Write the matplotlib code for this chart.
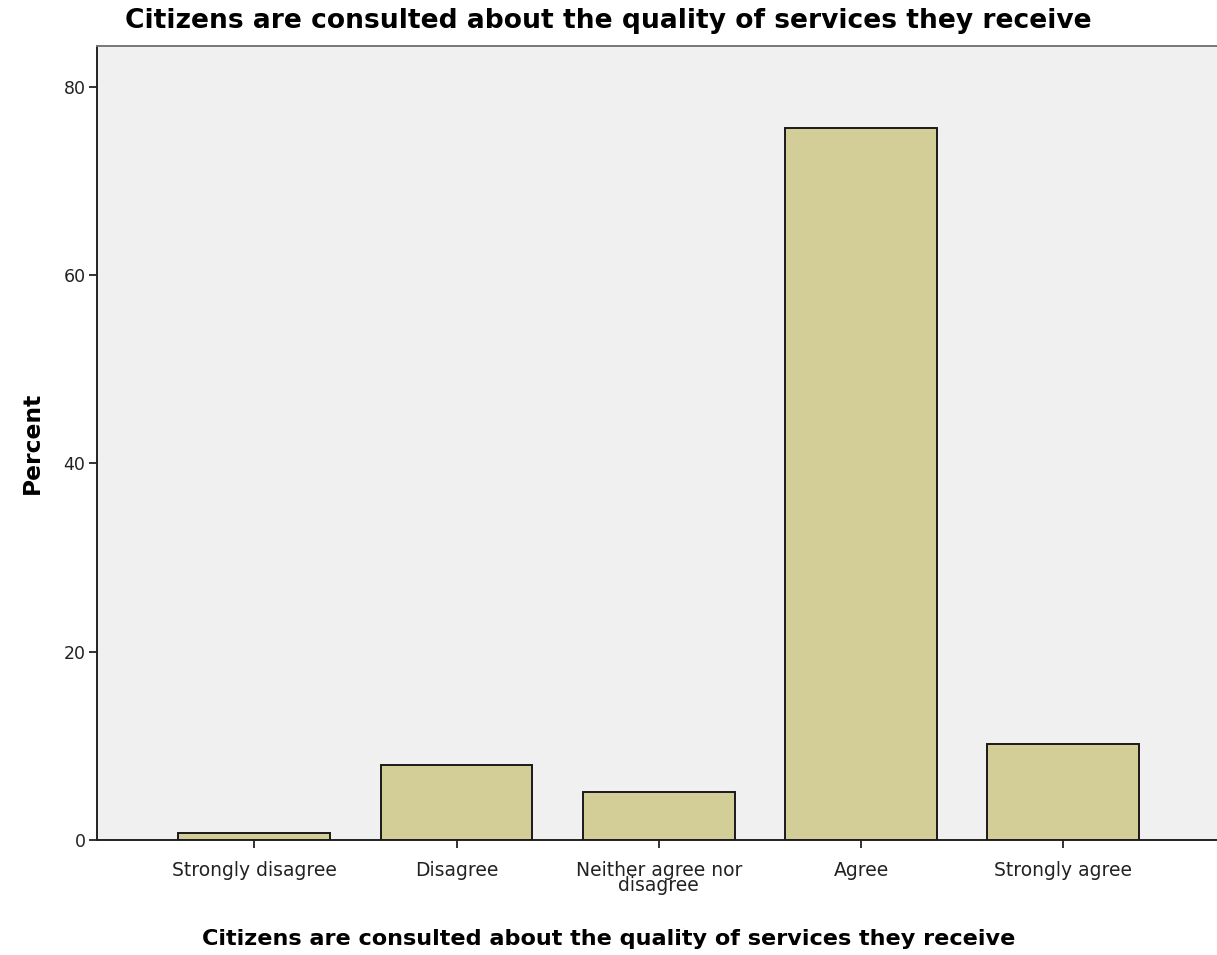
import matplotlib.pyplot as plt
import numpy as np

plt.rcParams['font.family'] = ['DejaVu Sans']

categories = ["Strongly disagree", "Disagree", "Neither agree nor\ndisagree",
              "Agree", "Strongly agree"]
percent = [0.7, 8.0, 5.1, 75.6, 10.2]
y_ticks = [0, 20, 40, 60, 80]
title = "Citizens are consulted about the quality of services they receive"

fig = plt.figure(figsize=(12.17, 9.55), dpi=100)
ax = fig.add_axes([0.0793, 0.1204, 0.9207, 0.8314])
ax.set_facecolor('#F0F0F0')

x = np.arange(len(categories))
ax.bar(x, percent, width=0.75, color='#D3CE97', edgecolor='#1a1a1a', linewidth=1.4, zorder=3)

ax.set_xlim(-0.78, 4.76)
ax.set_ylim(0, 84.3)
ax.set_yticks(y_ticks)
ax.set_yticklabels([str(v) for v in y_ticks], fontsize=12.5, color='#222222')
ax.set_xticks(x)
ax.set_xticklabels(categories, fontsize=13.5, color='#222222', linespacing=0.75)
ax.tick_params(axis='both', direction='out', length=6, width=1.4, color='#333333')
ax.tick_params(axis='x', pad=9)
ax.tick_params(axis='y', pad=2)

for side in ['left', 'bottom']:
    ax.spines[side].set_linewidth(1.4)
    ax.spines[side].set_color('#222222')
ax.spines['top'].set_color('#777777')
ax.spines['top'].set_linewidth(1.4)
ax.spines['right'].set_visible(False)

ax.set_ylabel("Percent", fontsize=16.8, fontweight='bold', labelpad=14)
ax.set_xlabel(title, fontsize=16.1, fontweight='bold')
ax.xaxis.set_label_coords(0.457, -0.112)
fig.text(0.5, 0.978, title, ha='center', va='center', fontsize=19.1, fontweight='bold')

fig.savefig('out.png', dpi=100)
